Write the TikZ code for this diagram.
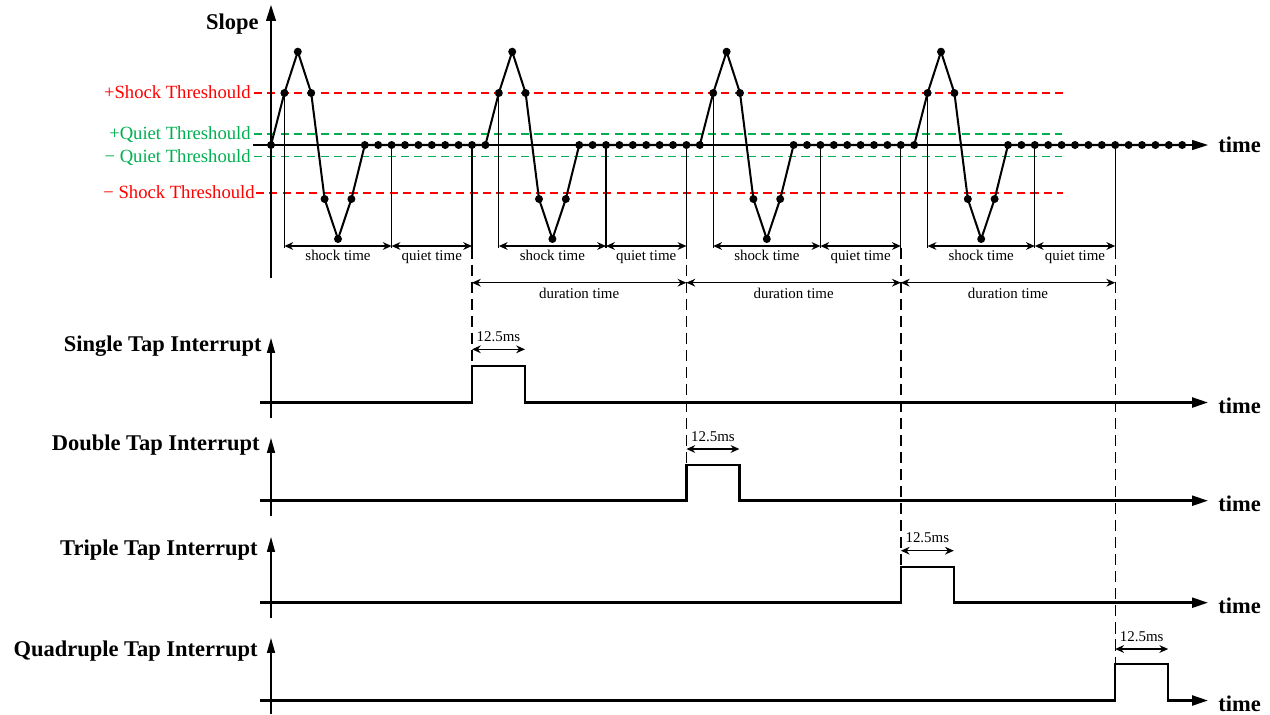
\documentclass[tikz,border=0pt]{standalone}
\usepackage{fontspec}
\setmainfont{Liberation Serif}
\usetikzlibrary{arrows.meta,calc}
\definecolor{thrred}{RGB}{255,0,0}
\definecolor{thrgreen}{RGB}{0,176,80}
\begin{document}
\begin{tikzpicture}[x=0.02cm,y=-0.02cm,
  axisarrow/.style={line width=0.7pt,-{Triangle[length=9pt,width=5.6pt]}},
  iaxis/.style={line width=0.7pt,-{Triangle[length=8.5pt,width=4.6pt]}},
  wave/.style={line width=1.15pt,line join=round},
  dot/.style={circle,fill=black,inner sep=0pt,minimum size=0.16cm},
  marker/.style={line width=0.7pt},
  dimarrow/.style={line width=0.8pt,{Stealth[length=5pt,width=4.4pt]}-{Stealth[length=5pt,width=4.4pt]}},
  vdash/.style={line width=0.8pt,dash pattern=on 6.3pt off 3.4pt},
  thr/.style={line width=0.9pt,dash pattern=on 4.6pt off 3pt},
  thrlabel/.style={font=\fontsize{10.6pt}{12pt}\selectfont,anchor=base east,inner sep=0pt},
  smalllabel/.style={font=\fontsize{8.5pt}{10pt}\selectfont,inner sep=0pt,anchor=base},
  biglabel/.style={font=\fontsize{12.8pt}{15pt}\selectfont\bfseries,inner sep=0pt},
  sig/.style={line width=1.4pt,line join=miter,-{Triangle[length=9pt,width=5.6pt]}},
]
\useasboundingbox (0,0) rectangle (1270,714);

% ---------- thresholds ----------
\coordinate (ps-l) at (254,93);    \coordinate (ps-r) at (1063,93);
\coordinate (pq-l) at (254,134);   \coordinate (pq-r) at (1062,134);
\coordinate (nq-l) at (254,156.7); \coordinate (nq-r) at (1062,156.7);
\coordinate (ns-l) at (256,193);   \coordinate (ns-r) at (1063,193);
\draw[thr,color=thrred]   (ps-l) -- (ps-r);
\draw[thr,color=thrgreen] (pq-l) -- (pq-r);
\draw[thr,color=thrgreen] (nq-l) -- (nq-r);
\draw[thr,color=thrred]   (ns-l) -- (ns-r);
\node[thrlabel,text=thrred]   (lps) at (251,98.5) {+Shock Threshould};
\node[thrlabel,text=thrgreen] (lpq) at (251,139.5) {+Quiet Threshould};
\node[thrlabel,text=thrgreen] (lnq) at (251,162) {− Quiet Threshould};
\node[thrlabel,text=thrred]   (lns) at (255,198) {− Shock Threshould};

% ---------- main axes ----------
\coordinate (vo) at (271,278); \coordinate (vt) at (271,5);
\draw[axisarrow] (vo) -- (vt);
\coordinate (ho) at (253,145); \coordinate (ht) at (1208,145);
\draw[axisarrow] (ho) -- (ht);
\node[biglabel,anchor=base east] (slope) at (259,29.5) {Slope};
\node[biglabel,anchor=base west] (time0) at (1218,152.7) {time};

% ---------- waveform ----------
\foreach \k in {0,1,2,3}{
  \foreach \j/\yy in {0/145,1/93,2/51.7,3/93,4/199,5/239,6/199,7/145}{
    \coordinate (w\k-\j) at ({271+13.4*(16*\k+\j)},\yy);
  }
}
\coordinate (wend) at ({271+13.4*68},145);
\draw[wave] (w0-0) -- (w0-1) -- (w0-2) -- (w0-3) -- (w0-4) -- (w0-5) -- (w0-6) -- (w0-7)
  -- (w1-0) -- (w1-1) -- (w1-2) -- (w1-3) -- (w1-4) -- (w1-5) -- (w1-6) -- (w1-7)
  -- (w2-0) -- (w2-1) -- (w2-2) -- (w2-3) -- (w2-4) -- (w2-5) -- (w2-6) -- (w2-7)
  -- (w3-0) -- (w3-1) -- (w3-2) -- (w3-3) -- (w3-4) -- (w3-5) -- (w3-6) -- (w3-7)
  -- (wend);
\foreach \i in {0,...,68}{
  \pgfmathtruncatemacro\mm{mod(\i,16)}
  \pgfmathtruncatemacro\skipit{(\i<64)&&(\mm>0)&&(\mm<7)}
  \ifnum\skipit=0 \node[dot] (b\i) at ({271+13.4*\i},145) {};\fi
}
\foreach \k in {0,1,2,3}{
  \foreach \j in {1,...,6}{
    \node[dot] (d\k-\j) at (w\k-\j) {};
  }
}

% ---------- markers and time spans ----------
\foreach \k in {0,1,2,3}{
  \pgfmathtruncatemacro\iq{16*\k+9}
  \pgfmathtruncatemacro\ie{16*\k+15}
  \coordinate (s\k) at ({271+13.4*(16*\k+1)},246);
  \coordinate (q\k) at ({271+13.4*\iq},246);
  \coordinate (e\k) at ({271+13.4*\ie},246);
  \coordinate (s\k-b) at ({271+13.4*(16*\k+1)},247.5);
  \coordinate (q\k-b) at ({271+13.4*\iq},247.5);
  \coordinate (e\k-b) at ({271+13.4*\ie},247.5);
  \draw[marker] (w\k-1) -- (s\k-b);
  \draw[marker] (b\iq.center) -- (q\k-b);
  \draw[marker] (b\ie.center) -- (e\k-b);
  \draw[dimarrow] (s\k) -- (q\k);
  \draw[dimarrow] (q\k) -- (e\k);
  \node[smalllabel] (st\k) at ($ (s\k)!0.5!(q\k) + (0,14) $) {shock time};
  \node[smalllabel] (qt\k) at ($ (q\k)!0.5!(e\k) + (0,14) $) {quiet time};
}

% ---------- duration spans ----------
\foreach \k/\n in {0/1,1/2,2/3}{
  \coordinate (du\k) at ({271+13.4*(16*\k+15)},282.7);
  \coordinate (dv\k) at ({271+13.4*(16*\n+15)},282.7);
  \draw[dimarrow] (du\k) -- (dv\k);
  \node[smalllabel] (dt\k) at ($ (du\k)!0.5!(dv\k) + (0,15.3) $) {duration time};
}

% ---------- interrupt rows ----------
\foreach \k/\bs/\tp/\tip/\bt/\ay/\lb/\lx/\rname in {
  0/402.5/366/338/418/349.3/351/262/Single,
  1/500.7/465/438/516/449/450/260/Double,
  2/602.7/567/537/618/550.7/555/258/Triple,
  3/700.5/664/638/714/649/656.7/258/Quadruple}{
  \pgfmathsetmacro\px{271+13.4*(16*\k+15)}
  \pgfmathsetmacro\pr{\px+53}
  \coordinate (r\k-o) at (271,\bt);
  \coordinate (r\k-t) at (271,\tip);
  \draw[iaxis] (r\k-o) -- (r\k-t);
  \node[biglabel,anchor=base east] (lab\k) at (\lx,\lb) {\rname\ Tap Interrupt};
  \coordinate (r\k-s) at (260,\bs);
  \coordinate (r\k-a) at (\px,\bs);
  \coordinate (r\k-b) at (\px,\tp);
  \coordinate (r\k-c) at (\pr,\tp);
  \coordinate (r\k-d) at (\pr,\bs);
  \coordinate (r\k-e) at (1208,\bs);
  \draw[sig] (r\k-s) -- (r\k-a) -- (r\k-b) -- (r\k-c) -- (r\k-d) -- (r\k-e);
  \node[biglabel,anchor=base west] (rt\k) at (1218,{\bs+10.5}) {time};
  \coordinate (m\k-l) at (\px,\ay);
  \coordinate (m\k-r) at (\pr,\ay);
  \draw[dimarrow] (m\k-l) -- (m\k-r);
  \node[smalllabel] (ms\k) at ({(\px+\pr)/2},{\ay-8}) {12.5ms};
  \draw[vdash] (e\k-b) -- (r\k-b);
}
\end{tikzpicture}
\end{document}
